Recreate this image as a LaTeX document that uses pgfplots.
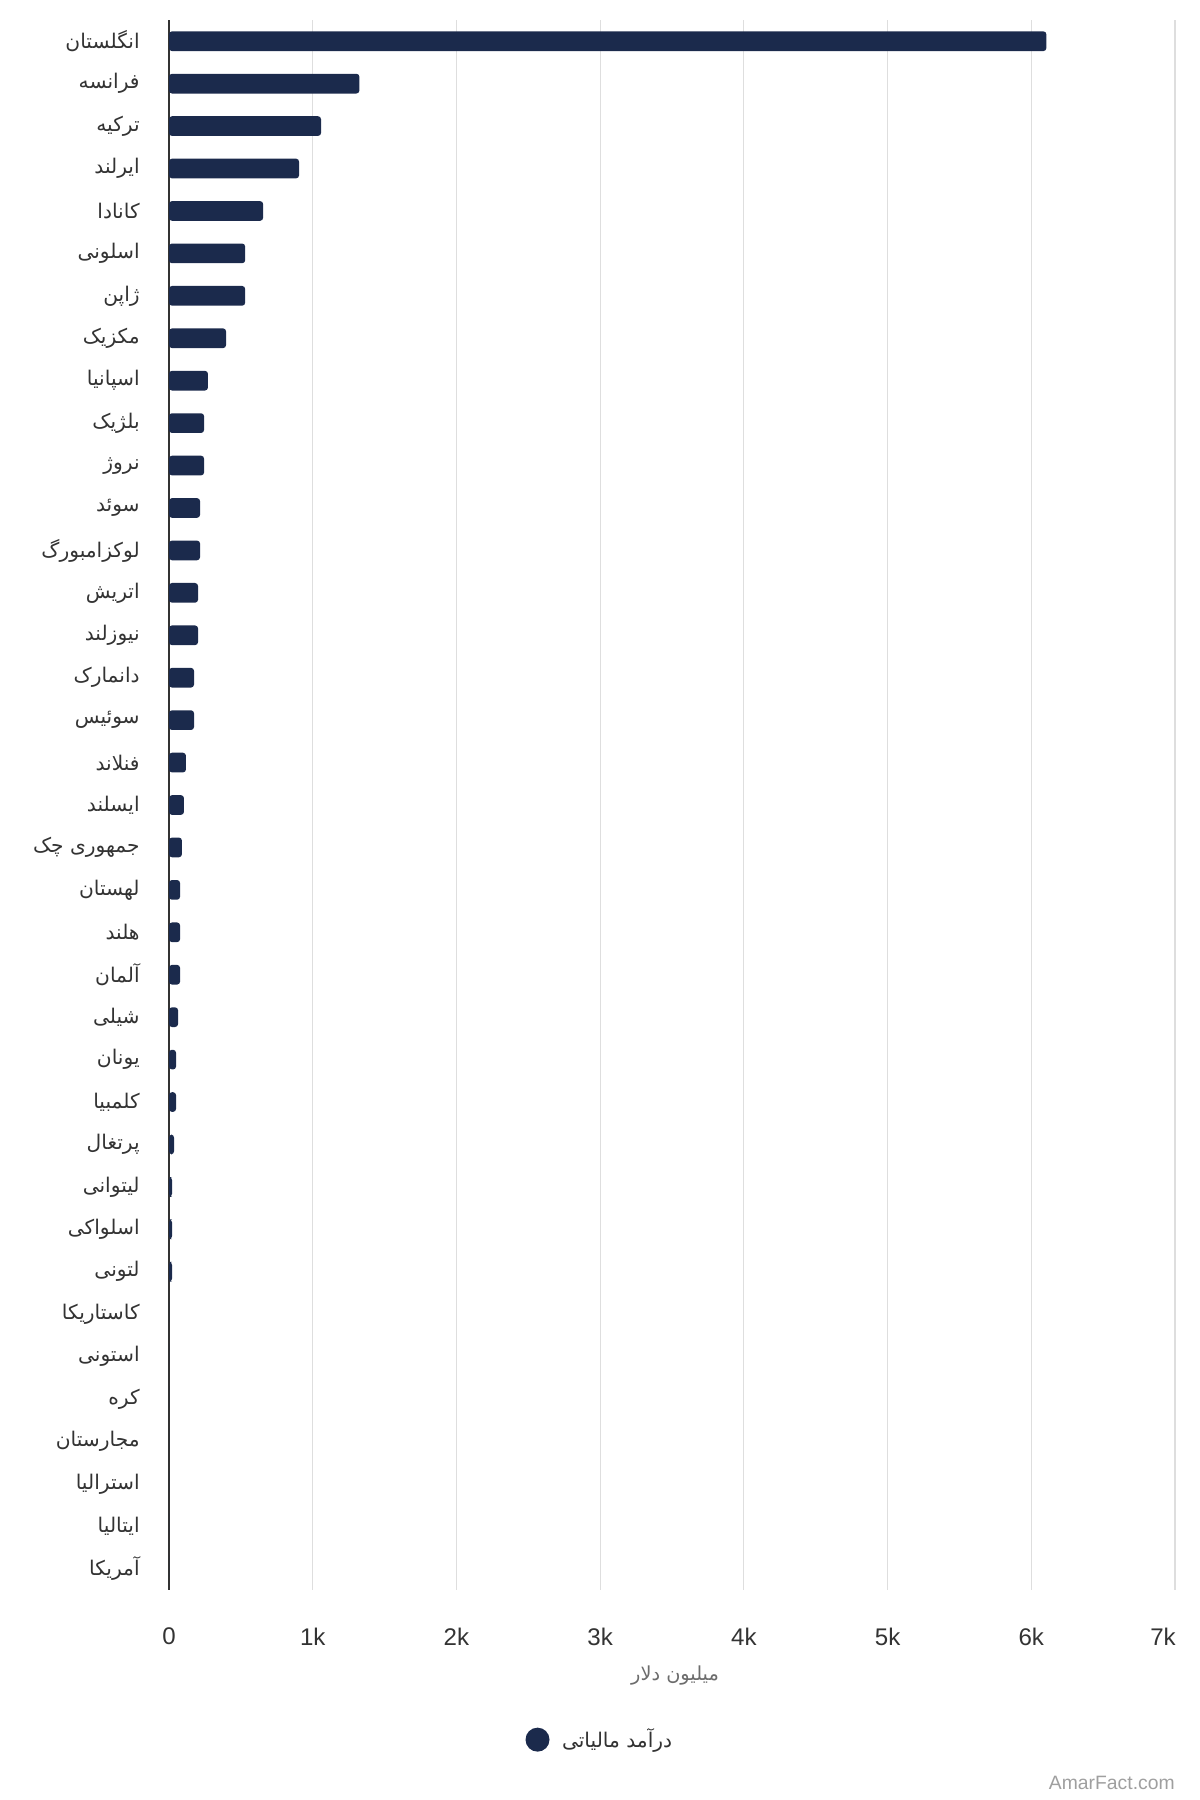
\documentclass[border=0pt]{standalone}
\usepackage{fontspec}
\setmainfont{Liberation Sans}
\newfontfamily\arabicfont[Script=Arabic]{DejaVu Sans}
\TeXXeTstate=1
\usepackage{pgfplots}
\pgfplotsset{compat=1.18}

\definecolor{navy}{RGB}{27,42,76}
\definecolor{gridgray}{RGB}{222,222,222}
\definecolor{txt}{RGB}{51,51,51}
\newcommand{\fa}[1]{{\arabicfont\beginR #1\endR}}

\begin{document}
\begin{tikzpicture}
\path[use as bounding box] (0,0) rectangle (240mm,360mm);
\begin{axis}[
  at={(33.8mm,42mm)}, anchor=south west,
  scale only axis,
  width=201.2mm, height=314mm,
  xbar, bar width=3.94mm,
  y dir=reverse,
  ymin=-0.5, ymax=36.5,
  xmin=0, xmax=7000,
  xtick={0,1000,...,7000},
  xticklabels={0,1k,2k,3k,4k,5k,6k,7k\hspace*{4.8mm}},
  xticklabel style={font=\fontsize{13.7}{16}\selectfont, text=txt, anchor=center, yshift=-9.3mm},
  ytick={0,...,36},
  yticklabels={\fa{انگلستان},\fa{فرانسه},\fa{ترکیه},\fa{ایرلند},\fa{کانادا},\fa{اسلونی},\fa{ژاپن},\fa{مکزیک},\fa{اسپانیا},\fa{بلژیک},\fa{نروژ},\fa{سوئد},\fa{لوکزامبورگ},\fa{اتریش},\fa{نیوزلند},\fa{دانمارک},\fa{سوئیس},\fa{فنلاند},\fa{ایسلند},{\arabicfont\beginR جمهوری چک\endR},\fa{لهستان},\fa{هلند},\fa{آلمان},\fa{شیلی},\fa{یونان},\fa{کلمبیا},\fa{پرتغال},\fa{لیتوانی},\fa{اسلواکی},\fa{لتونی},\fa{کاستاریکا},\fa{استونی},\fa{کره},\fa{مجارستان},\fa{استرالیا},\fa{ایتالیا},\fa{آمریکا}},
  yticklabel style={font=\fontsize{11.5}{13}\selectfont, text=txt, anchor=east, inner sep=0pt, xshift=-5.8mm},
  major tick length=0pt,
  xmajorgrids, grid style={gridgray, line width=0.25mm},
  axis lines*=left,
  x axis line style={draw=none},
  y axis line style={txt, line width=0.35mm, -},
  xlabel={\arabicfont\beginR میلیون دلار\endR},
  xlabel style={at={(axis description cs:0.503,0)}, anchor=center, yshift=-17.1mm,
    font=\fontsize{11}{13}\selectfont, text=gray!85!black},
  legend style={at={(axis description cs:0.429,-0.0953)}, anchor=center, draw=none,
    font=\fontsize{11.5}{14}\selectfont, text=txt},
  legend image code/.code={\fill[navy] (0cm,0cm) circle (2.4mm); \path (0.42cm,0cm);},
]
\addplot[fill=navy, draw=none, rounded corners=0.6mm] coordinates {
  (6105,0) (1325,1) (1058,2) (905,3) (655,4) (530,5) (530,6) (397,7)
  (271,8) (244,9) (244,10) (216,11) (216,12) (202,13) (202,14) (174,15)
  (174,16) (118,17) (104,18) (90,19) (77,20) (77,21) (77,22) (63,23)
  (49,24) (49,25) (35,26) (21,27) (21,28) (21,29) (0,30) (0,31)
  (0,32) (0,33) (0,34) (0,35) (0,36)
};
\addlegendentry{\arabicfont\beginR درآمد مالیاتی\endR}
\end{axis}
\node[anchor=east, inner sep=0pt, font=\fontsize{11}{13}\selectfont, text=gray!75] at (235mm,3.4mm) {AmarFact.com};
\end{tikzpicture}
\end{document}
